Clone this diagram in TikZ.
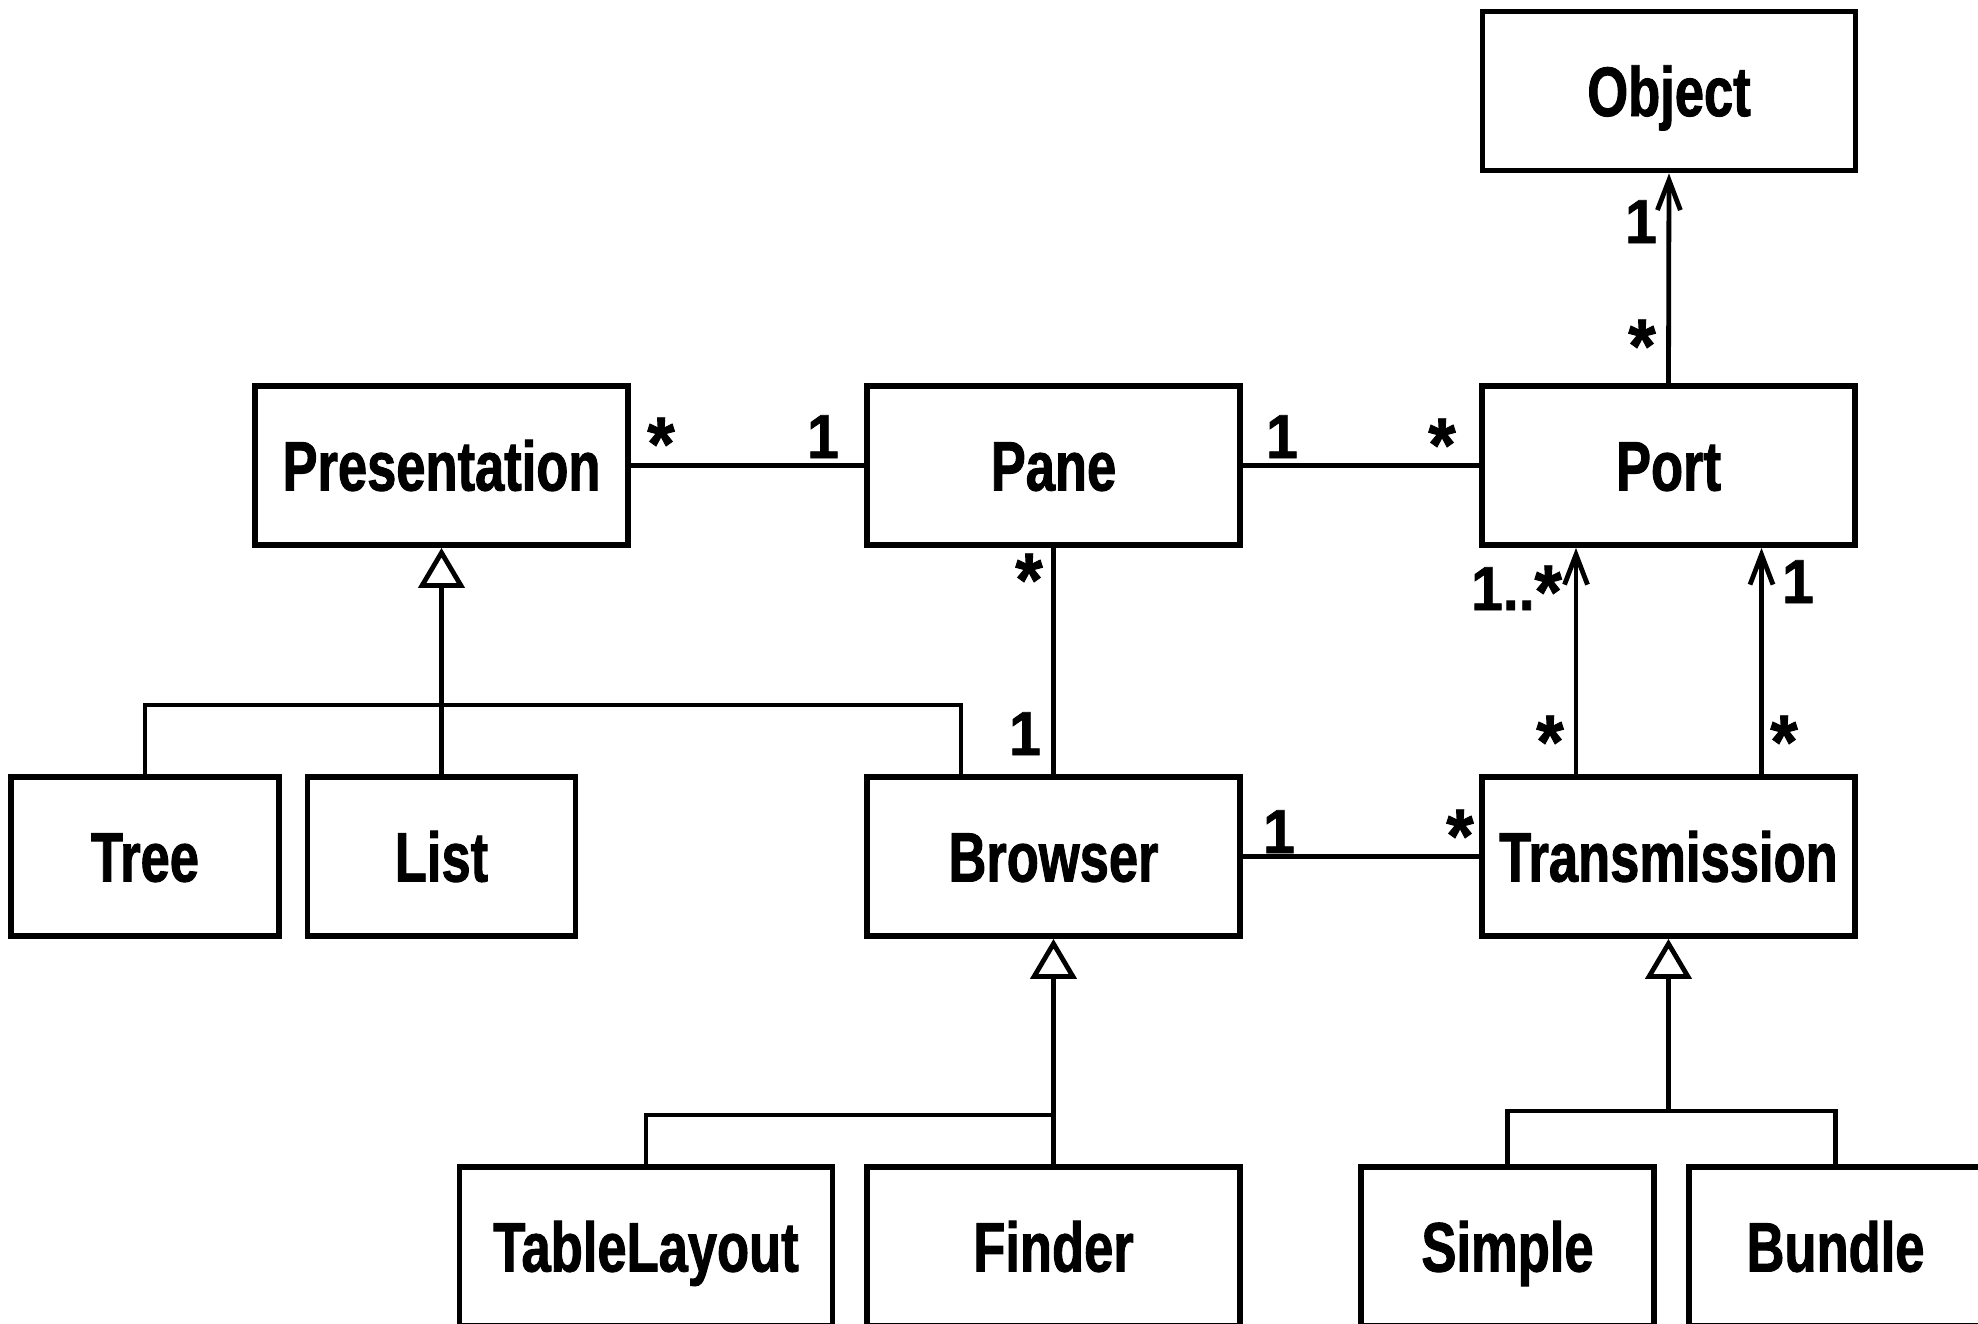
\documentclass[tikz,border=0pt]{standalone}
\usepackage{fontspec}
\usetikzlibrary{arrows.meta}
\newfontfamily\classfont{Liberation Sans}[FakeStretch=0.75, BoldFeatures={FakeBold=1.3}]
\newfontfamily\multfont{Liberation Sans}[FakeStretch=0.92, BoldFeatures={FakeBold=1.2}]
% larger, slightly lowered asterisk for multiplicities
\newcommand\mstar{\raisebox{-4pt}{\fontsize{38}{40}\selectfont *}}

\begin{document}
\begin{tikzpicture}[x=0.5pt,y=-0.5pt,
  cls/.style={draw, line width=2.9pt, minimum height=79.5pt, inner sep=0pt,
    text height=25pt, text depth=0pt,
    font={\classfont\bfseries\fontsize{35}{40}\selectfont}},
  wide/.style={cls, minimum width=186.5pt},
  small/.style={cls, minimum width=134pt},
  mid/.style={cls, minimum width=146.5pt},
  link/.style={line width=2.4pt},
  assoc/.style={link, -{Straight Barb[length=15pt,width=11.5pt]}},
  gen/.style={link, -{Triangle[open,fill=white,length=20pt,width=23pt]}},
  mult/.style={anchor=base, inner sep=0pt,
    font={\multfont\bfseries\fontsize{31}{36}\selectfont}}
]
\useasboundingbox (0,0) rectangle (1978,1324);
\clip (0,0) rectangle (1978,1324);

% classes
\node[wide]  (object)       at (1669,91)      {Object};
\node[wide]  (presentation) at (441.5,465.5)  {Presentation};
\node[wide]  (pane)         at (1053.5,465.5) {Pane};
\node[wide]  (port)         at (1668.5,465.5) {Port};
\node[small] (tree)         at (145,856.5)    {Tree};
\node[small] (list)         at (441.5,856.5)  {List};
\node[wide]  (browser)      at (1053.5,856.5) {Browser};
\node[wide]  (transmission) at (1668.5,856.5) {Transmission};
\node[wide]  (tablelayout)  at (646,1246.5)   {TableLayout};
\node[wide]  (finder)       at (1053.5,1246.5){Finder};
\node[mid]   (simple)       at (1507.5,1246.5){Simple};
\node[mid]   (bundle)       at (1835.5,1246.5){Bundle};

% associations
\draw[link] (presentation.east) -- (pane.west);
\draw[link] (pane.east) -- (port.west);
\draw[link] (pane.south) -- (browser.north);
\draw[link] (browser.east) -- (transmission.west);
\draw[assoc] (port.north) -- (object.south);
\draw[assoc] ([xshift=-46.25pt]transmission.north) -- ([xshift=-46.25pt]port.south);
\draw[assoc] ([xshift=46.5pt]transmission.north) -- ([xshift=46.5pt]port.south);

% generalizations
\coordinate (jp) at (441.5,705);
\coordinate (jb) at (1053.5,1115);
\coordinate (jt) at (1668.5,1111);
\draw[link] (tree.north) |- (jp) -| ([xshift=-46.25pt]browser.north);
\draw[link] (list.north) -- (jp);
\draw[gen] (jp) -- (presentation.south);
\draw[link] (tablelayout.north) |- (jb) -- (finder.north);
\draw[gen] (jb) -- (browser.south);
\draw[link] (simple.north) |- (jt) -| (bundle.north);
\draw[gen] (jt) -- (transmission.south);

% multiplicities
\node[mult] (m1)  at (661,462)    {\mstar};
\node[mult] (m2)  at (823,458)    {1};
\node[mult] (m3)  at (1282,458)   {1};
\node[mult] (m4)  at (1442,463)   {\mstar};
\node[mult] (m5)  at (1029,598)   {\mstar};
\node[mult] (m6)  at (1025,755)   {1};
\node[mult] (m7)  at (1279,853)   {1};
\node[mult] (m8)  at (1460,854)   {\mstar};
\node[mult] (m9)  at (1641,243)   {1};
\node[mult] (m10) at (1642,364)   {\mstar};
\node[mult] (m11) at (1516.5,610) {1..\mstar};
\node[mult] (m12) at (1550,760)   {\mstar};
\node[mult] (m13) at (1798,603)   {1};
\node[mult] (m14) at (1784,760)   {\mstar};
\end{tikzpicture}
\end{document}
